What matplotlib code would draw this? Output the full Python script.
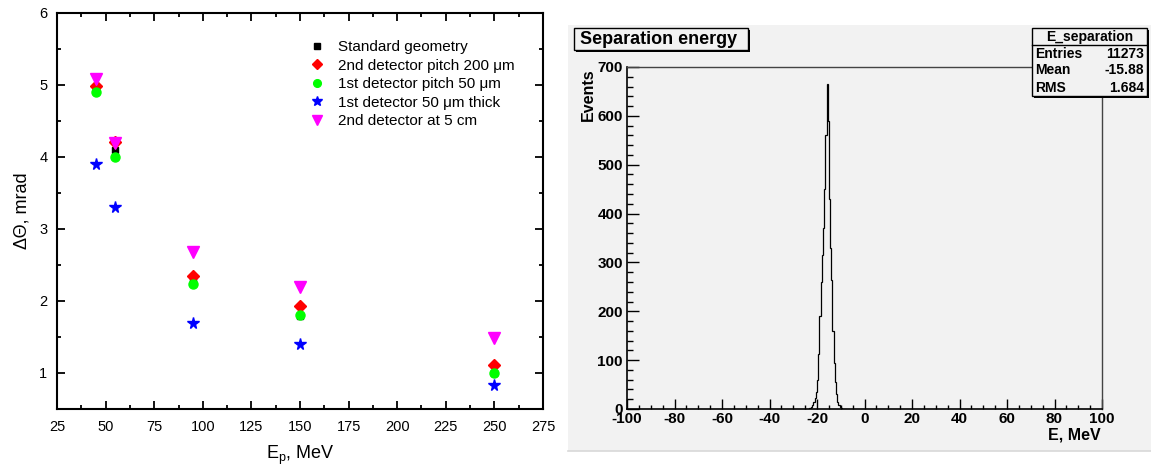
import matplotlib
matplotlib.use("Agg")
import matplotlib.pyplot as plt
import numpy as np
from matplotlib.patches import Rectangle
from matplotlib.lines import Line2D
from matplotlib.ticker import MultipleLocator

plt.rcParams["font.family"] = ["Liberation Sans", "DejaVu Sans"]
plt.rcParams["mathtext.fontset"] = "custom"
plt.rcParams["mathtext.rm"] = "Liberation Sans"
plt.rcParams["axes.unicode_minus"] = False

W, H = 1151, 470
dpi = 100

# Angular resolution vs proton energy
energies = [45, 55, 95, 150, 250]
standard = [4.95, 4.10, 2.30, 1.79, 1.00]
pitch_200 = [4.98, 4.21, 2.35, 1.93, 1.11]
pitch_50 = [4.90, 4.00, 2.24, 1.80, 1.00]
thick_50 = [3.90, 3.30, 1.70, 1.40, 0.84]
at_5cm = [5.09, 4.20, 2.68, 2.20, 1.48]

labels = ["Standard geometry",
          "2nd detector pitch 200 \u03bcm",
          "1st detector pitch 50 \u03bcm",
          "1st detector 50 \u03bcm thick",
          "2nd detector at 5 cm"]

# Separation energy histogram (0.5 MeV bins starting at -24 MeV)
hist_start = -24.0
hist_step = 0.5
counts = [1, 2, 3, 5, 8, 14, 22, 34, 60, 112, 190, 260, 315, 370, 450, 560,
          665, 590, 430, 330, 265, 160, 95, 55, 30, 14, 8, 4, 2, 1, 1, 0]

stats_name = "E_separation"
stats_entries = 11273
stats_mean = -15.88
stats_rms = 1.684


def fx(x):
    return x / W


def fy(y):
    return 1 - y / H


fig = plt.figure(figsize=(W / dpi, H / dpi), dpi=dpi)

# ---- left panel -------------------------------------------------------
ax = fig.add_axes([fx(57), fy(409), (543 - 57) / W, (409 - 13) / H])
styles = [("s", 5.0, "black"), ("D", 6.5, "#ff0000"), ("o", 6.5, "#00ff00"),
          ("*", 8.5, "#0000ff"), ("v", 8.0, "#ff00ff")]
for vals, lab, (m, ms, c) in zip([standard, pitch_200, pitch_50, thick_50, at_5cm],
                                 labels, styles):
    ax.plot(energies, vals, ls="none", marker=m, ms=ms, color=c, mec=c, label=lab)

ax.set_xlim(25, 275)
ax.set_ylim(0.5, 6)
ax.set_xticks(range(25, 276, 25))
ax.set_yticks([1, 2, 3, 4, 5, 6])
ax.xaxis.set_minor_locator(MultipleLocator(12.5))
ax.yaxis.set_minor_locator(MultipleLocator(0.5))
ax.tick_params(which="both", direction="in", top=True, right=True, width=1.3,
               labelsize=10.5)
ax.tick_params(which="major", length=5.5)
ax.tick_params(which="minor", length=3)
ax.tick_params(axis="x", pad=8)
ax.tick_params(axis="y", pad=7)
for s in ax.spines.values():
    s.set_linewidth(1.5)
ax.set_xlabel("E$_\\mathrm{p}$, MeV", fontsize=13)
ax.set_ylabel("\u0394\u0398, mrad", fontsize=13)
ax.xaxis.set_label_coords(0.5, -0.088)
ax.yaxis.set_label_coords(-0.055, 0.5)
ax.legend(loc="upper left", bbox_to_anchor=(0.519, 0.932), frameon=False,
          fontsize=11, handlelength=1.0, handletextpad=0.87, borderpad=0,
          borderaxespad=0, labelspacing=0.3, markerscale=0.85)

# ---- right panel ------------------------------------------------------
bg = "#f2f2f2"
fig.patches.append(Rectangle((fx(568), fy(451)), (W - 568) / W, (451 - 25) / H,
                             transform=fig.transFigure, fc=bg, ec="none", zorder=-2))
fig.lines.append(Line2D([fx(568), 1], [fy(451), fy(451)], transform=fig.transFigure,
                        color="#d8d8d8", lw=1.2, zorder=-1))

ax2 = fig.add_axes([fx(627), fy(409), (1102 - 627) / W, (409 - 67) / H])
ax2.set_facecolor(bg)
edges = hist_start + hist_step * np.arange(len(counts) + 1)
ax2.stairs(counts, edges, color="black", lw=0.9)
ax2.set_xlim(-100, 100)
ax2.set_ylim(0, 700)
ax2.set_xticks(range(-100, 101, 20))
ax2.set_yticks(range(0, 701, 100))
ax2.xaxis.set_minor_locator(MultipleLocator(5))
ax2.yaxis.set_minor_locator(MultipleLocator(20))
ax2.tick_params(which="both", direction="in", width=1.0, labelsize=11)
ax2.tick_params(axis="x", which="major", length=7.2, pad=2)
ax2.tick_params(axis="x", which="minor", length=3.2)
ax2.tick_params(axis="y", which="major", length=8.6, pad=3)
ax2.tick_params(axis="y", which="minor", length=4.3)
for t in ax2.get_xticklabels() + ax2.get_yticklabels():
    t.set_fontweight("bold")
for side in ("top", "right"):
    ax2.spines[side].set_color("#444444")
    ax2.spines[side].set_linewidth(1.0)
for side in ("left", "bottom"):
    ax2.spines[side].set_linewidth(1.2)

fig.text(fx(588), fy(68), "Events", rotation=90, ha="center", va="top",
         fontsize=11.5, fontweight="bold")
fig.text(fx(1101), fy(435), "E, MeV", ha="right", va="center",
         fontsize=11.5, fontweight="bold")


def shadow_box(x0, y0, x1, y1):
    fig.patches.append(Rectangle((fx(x0 + 2), fy(y1 + 2)), (x1 - x0) / W, (y1 - y0) / H,
                                 transform=fig.transFigure, fc="black", ec="none",
                                 zorder=5))
    fig.patches.append(Rectangle((fx(x0), fy(y1)), (x1 - x0) / W, (y1 - y0) / H,
                                 transform=fig.transFigure, fc=bg, ec="black",
                                 lw=1.0, zorder=6))


# title box
shadow_box(574, 28, 748, 50)
fig.text(fx(580), fy(39.5), "Separation energy", ha="left", va="center",
         fontsize=13, fontweight="bold", zorder=7)

# statistics box
shadow_box(1032, 28, 1147, 96)
fig.lines.append(Line2D([fx(1032), fx(1147)], [fy(45), fy(45)],
                        transform=fig.transFigure, color="black", lw=1.0, zorder=7))
fig.text(fx(1089.5), fy(37), stats_name, ha="center", va="center",
         fontsize=10, fontweight="bold", zorder=7)
rows = [("Entries", f"{stats_entries}"), ("Mean", f"{stats_mean:.2f}"),
        ("RMS", f"{stats_rms:.3f}")]
for i, (name, val) in enumerate(rows):
    y = 53.5 + 17 * i
    fig.text(fx(1035), fy(y), name, ha="left", va="center",
             fontsize=10, fontweight="bold", zorder=7)
    fig.text(fx(1144), fy(y), val, ha="right", va="center",
             fontsize=10, fontweight="bold", zorder=7)

fig.savefig("out.png", dpi=dpi)
